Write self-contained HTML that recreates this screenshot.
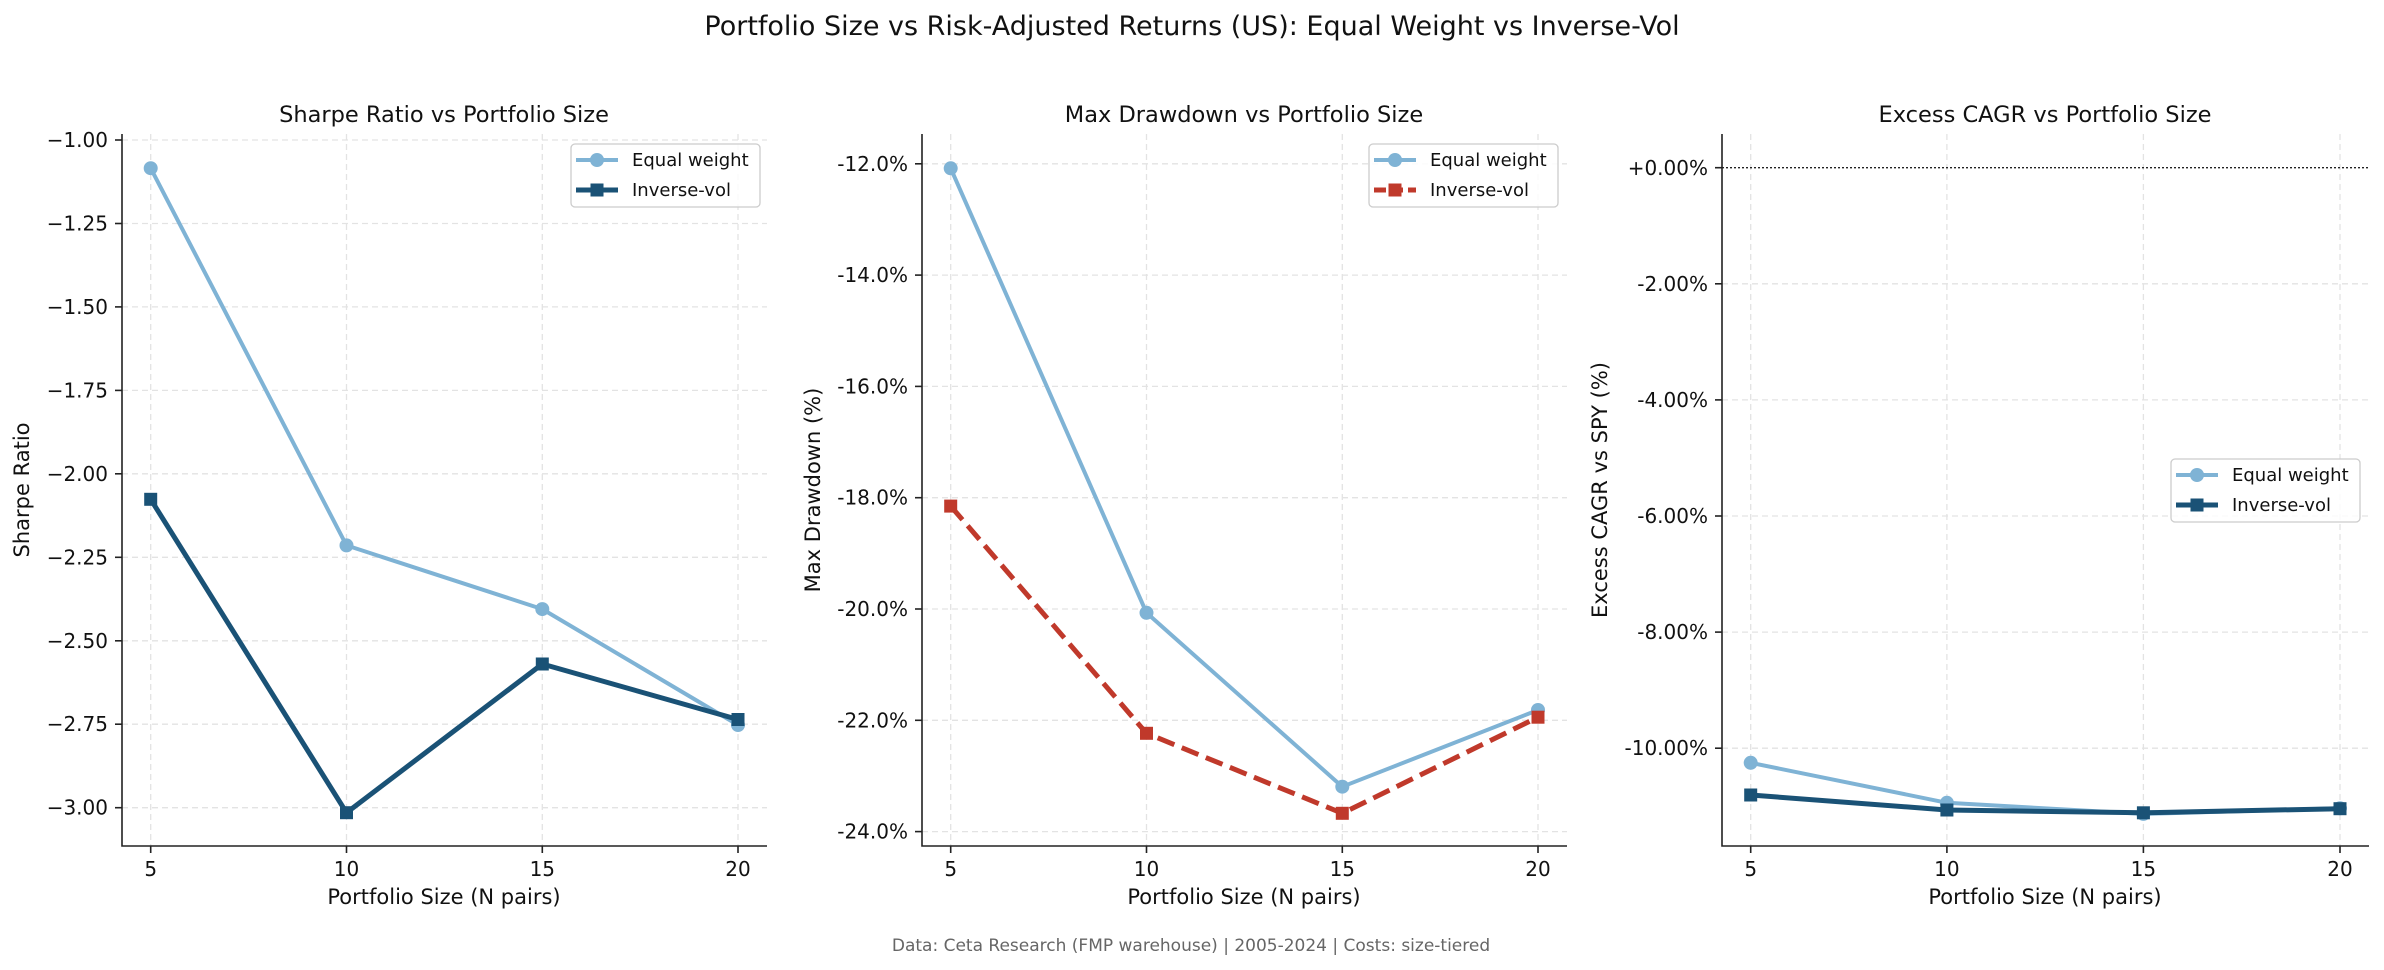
<!DOCTYPE html>
<html><head><meta charset="utf-8"><style>
html,body{margin:0;padding:0;background:#fff}
svg{display:block}
text{font-family:"DejaVu Sans","Liberation Sans",sans-serif;fill:#111}
.t{font-size:20px}
.g{stroke:#e3e3e3;stroke-width:1.3;stroke-dasharray:6,4}
.ax{stroke:#222;stroke-width:1.6;fill:none}
</style></head><body>
<svg width="2384" height="970" viewBox="0 0 2384 970" xmlns="http://www.w3.org/2000/svg">
<text x="1192" y="35" font-size="27" text-anchor="middle">Portfolio Size vs Risk-Adjusted Returns (US): Equal Weight vs Inverse-Vol</text>

<!-- Panel 1 -->
<g>
<text x="444" y="122" font-size="22.5" text-anchor="middle">Sharpe Ratio vs Portfolio Size</text>
<g class="g">
<line x1="150.7" y1="134" x2="150.7" y2="846"/><line x1="346.5" y1="134" x2="346.5" y2="846"/><line x1="542.3" y1="134" x2="542.3" y2="846"/><line x1="738" y1="134" x2="738" y2="846"/>
<line x1="122" y1="140" x2="767" y2="140"/><line x1="122" y1="223.5" x2="767" y2="223.5"/><line x1="122" y1="306.9" x2="767" y2="306.9"/><line x1="122" y1="390.4" x2="767" y2="390.4"/><line x1="122" y1="473.8" x2="767" y2="473.8"/><line x1="122" y1="557.3" x2="767" y2="557.3"/><line x1="122" y1="640.8" x2="767" y2="640.8"/><line x1="122" y1="724.2" x2="767" y2="724.2"/><line x1="122" y1="807.7" x2="767" y2="807.7"/>
</g>
<g class="t" text-anchor="end">
<text x="108" y="147">−1.00</text><text x="108" y="230.5">−1.25</text><text x="108" y="314">−1.50</text><text x="108" y="397.4">−1.75</text><text x="108" y="480.8">−2.00</text><text x="108" y="564.3">−2.25</text><text x="108" y="647.8">−2.50</text><text x="108" y="731.2">−2.75</text><text x="108" y="814.7">−3.00</text>
</g>
<g stroke="#222" stroke-width="1.6">
<line x1="115" y1="140" x2="122" y2="140"/><line x1="115" y1="223.5" x2="122" y2="223.5"/><line x1="115" y1="306.9" x2="122" y2="306.9"/><line x1="115" y1="390.4" x2="122" y2="390.4"/><line x1="115" y1="473.8" x2="122" y2="473.8"/><line x1="115" y1="557.3" x2="122" y2="557.3"/><line x1="115" y1="640.8" x2="122" y2="640.8"/><line x1="115" y1="724.2" x2="122" y2="724.2"/><line x1="115" y1="807.7" x2="122" y2="807.7"/>
<line x1="150.7" y1="846" x2="150.7" y2="853"/><line x1="346.5" y1="846" x2="346.5" y2="853"/><line x1="542.3" y1="846" x2="542.3" y2="853"/><line x1="738" y1="846" x2="738" y2="853"/>
</g>
<g class="t" text-anchor="middle"><text x="150.7" y="876">5</text><text x="346.5" y="876">10</text><text x="542.3" y="876">15</text><text x="738" y="876">20</text></g>
<text x="444" y="904" font-size="21" text-anchor="middle">Portfolio Size (N pairs)</text>
<text transform="translate(29,490) rotate(-90)" font-size="21" text-anchor="middle">Sharpe Ratio</text>
<polyline points="150.7,168.2 346.5,545.4 542.3,609.1 738,725" fill="none" stroke="#7fb3d5" stroke-width="4" stroke-linejoin="round"/>
<g fill="#7fb3d5"><circle cx="150.7" cy="168.2" r="7"/><circle cx="346.5" cy="545.4" r="7"/><circle cx="542.3" cy="609.1" r="7"/><circle cx="738" cy="725" r="7"/></g>
<polyline points="150.7,499.3 346.5,812.7 542.3,664 738,719.5" fill="none" stroke="#1a5276" stroke-width="5" stroke-linejoin="round"/>
<g fill="#1a5276"><rect x="144.2" y="492.8" width="13" height="13"/><rect x="340" y="806.2" width="13" height="13"/><rect x="535.8" y="657.5" width="13" height="13"/><rect x="731.5" y="713" width="13" height="13"/></g>
<path class="ax" d="M122,134 V846 H767"/>
<rect x="571" y="144" width="189" height="63" rx="4" fill="#fff" fill-opacity="0.85" stroke="#ccc" stroke-width="1.3"/>
<line x1="576" y1="160" x2="618" y2="160" stroke="#7fb3d5" stroke-width="4"/><circle cx="597" cy="160" r="7" fill="#7fb3d5"/>
<line x1="576" y1="190" x2="618" y2="190" stroke="#1a5276" stroke-width="5"/><rect x="590.5" y="183.5" width="13" height="13" fill="#1a5276"/>
<text x="632" y="166" font-size="18">Equal weight</text><text x="632" y="196" font-size="18">Inverse-vol</text>
</g>

<!-- Panel 2 -->
<g>
<text x="1244" y="122" font-size="22.5" text-anchor="middle">Max Drawdown vs Portfolio Size</text>
<g class="g">
<line x1="950.7" y1="134" x2="950.7" y2="846"/><line x1="1146.5" y1="134" x2="1146.5" y2="846"/><line x1="1342.3" y1="134" x2="1342.3" y2="846"/><line x1="1538" y1="134" x2="1538" y2="846"/>
<line x1="922" y1="163.8" x2="1567" y2="163.8"/><line x1="922" y1="275.1" x2="1567" y2="275.1"/><line x1="922" y1="386.4" x2="1567" y2="386.4"/><line x1="922" y1="497.7" x2="1567" y2="497.7"/><line x1="922" y1="609" x2="1567" y2="609"/><line x1="922" y1="720.3" x2="1567" y2="720.3"/><line x1="922" y1="831.6" x2="1567" y2="831.6"/>
</g>
<g class="t" text-anchor="end">
<text x="908" y="171">-12.0%</text><text x="908" y="282">-14.0%</text><text x="908" y="393.4">-16.0%</text><text x="908" y="504.7">-18.0%</text><text x="908" y="616">-20.0%</text><text x="908" y="727.3">-22.0%</text><text x="908" y="838.6">-24.0%</text>
</g>
<g stroke="#222" stroke-width="1.6">
<line x1="915" y1="163.8" x2="922" y2="163.8"/><line x1="915" y1="275.1" x2="922" y2="275.1"/><line x1="915" y1="386.4" x2="922" y2="386.4"/><line x1="915" y1="497.7" x2="922" y2="497.7"/><line x1="915" y1="609" x2="922" y2="609"/><line x1="915" y1="720.3" x2="922" y2="720.3"/><line x1="915" y1="831.6" x2="922" y2="831.6"/>
<line x1="950.7" y1="846" x2="950.7" y2="853"/><line x1="1146.5" y1="846" x2="1146.5" y2="853"/><line x1="1342.3" y1="846" x2="1342.3" y2="853"/><line x1="1538" y1="846" x2="1538" y2="853"/>
</g>
<g class="t" text-anchor="middle"><text x="950.7" y="876">5</text><text x="1146.5" y="876">10</text><text x="1342.3" y="876">15</text><text x="1538" y="876">20</text></g>
<text x="1244" y="904" font-size="21" text-anchor="middle">Portfolio Size (N pairs)</text>
<text transform="translate(820,490) rotate(-90)" font-size="21" text-anchor="middle">Max Drawdown (%)</text>
<polyline points="950.7,168.3 1146.5,612.8 1342.3,786.7 1538,710" fill="none" stroke="#7fb3d5" stroke-width="4" stroke-linejoin="round"/>
<g fill="#7fb3d5"><circle cx="950.7" cy="168.3" r="7"/><circle cx="1146.5" cy="612.8" r="7"/><circle cx="1342.3" cy="786.7" r="7"/><circle cx="1538" cy="710" r="7"/></g>
<polyline points="950.7,506.1 1146.5,733.3 1342.3,813.3 1538,717.2" fill="none" stroke="#c0392b" stroke-width="5" stroke-dasharray="18,8"/>
<g fill="#c0392b"><rect x="944.2" y="499.6" width="13" height="13"/><rect x="1140" y="726.8" width="13" height="13"/><rect x="1335.8" y="806.8" width="13" height="13"/><rect x="1531.5" y="710.7" width="13" height="13"/></g>
<path class="ax" d="M922,134 V846 H1567"/>
<rect x="1369" y="144" width="189" height="63" rx="4" fill="#fff" fill-opacity="0.85" stroke="#ccc" stroke-width="1.3"/>
<line x1="1374" y1="160" x2="1416" y2="160" stroke="#7fb3d5" stroke-width="4"/><circle cx="1395" cy="160" r="7" fill="#7fb3d5"/>
<line x1="1374" y1="190" x2="1416" y2="190" stroke="#c0392b" stroke-width="5" stroke-dasharray="12,5"/><rect x="1388.5" y="183.5" width="13" height="13" fill="#c0392b"/>
<text x="1430" y="166" font-size="18">Equal weight</text><text x="1430" y="196" font-size="18">Inverse-vol</text>
</g>

<!-- Panel 3 -->
<g>
<text x="2045" y="122" font-size="22.5" text-anchor="middle">Excess CAGR vs Portfolio Size</text>
<g class="g">
<line x1="1750.7" y1="134" x2="1750.7" y2="846"/><line x1="1946.9" y1="134" x2="1946.9" y2="846"/><line x1="2143.4" y1="134" x2="2143.4" y2="846"/><line x1="2340" y1="134" x2="2340" y2="846"/>
<line x1="1722" y1="283.8" x2="2369" y2="283.8"/><line x1="1722" y1="399.9" x2="2369" y2="399.9"/><line x1="1722" y1="516" x2="2369" y2="516"/><line x1="1722" y1="632.1" x2="2369" y2="632.1"/><line x1="1722" y1="748.2" x2="2369" y2="748.2"/>
</g>
<line x1="1722" y1="167.7" x2="2369" y2="167.7" stroke="#222" stroke-width="1.4" stroke-dasharray="2,2"/>
<g class="t" text-anchor="end">
<text x="1708" y="175">+0.00%</text><text x="1708" y="291">-2.00%</text><text x="1708" y="407">-4.00%</text><text x="1708" y="523">-6.00%</text><text x="1708" y="639">-8.00%</text><text x="1708" y="755">-10.00%</text>
</g>
<g stroke="#222" stroke-width="1.6">
<line x1="1715" y1="167.7" x2="1722" y2="167.7"/><line x1="1715" y1="283.8" x2="1722" y2="283.8"/><line x1="1715" y1="399.9" x2="1722" y2="399.9"/><line x1="1715" y1="516" x2="1722" y2="516"/><line x1="1715" y1="632.1" x2="1722" y2="632.1"/><line x1="1715" y1="748.2" x2="1722" y2="748.2"/>
<line x1="1750.7" y1="846" x2="1750.7" y2="853"/><line x1="1946.9" y1="846" x2="1946.9" y2="853"/><line x1="2143.4" y1="846" x2="2143.4" y2="853"/><line x1="2340" y1="846" x2="2340" y2="853"/>
</g>
<g class="t" text-anchor="middle"><text x="1750.7" y="876">5</text><text x="1946.9" y="876">10</text><text x="2143.4" y="876">15</text><text x="2340" y="876">20</text></g>
<text x="2045" y="904" font-size="21" text-anchor="middle">Portfolio Size (N pairs)</text>
<text transform="translate(1607,490) rotate(-90)" font-size="21" text-anchor="middle">Excess CAGR vs SPY (%)</text>
<polyline points="1750.7,762.8 1946.9,802.8 2143.4,813.9 2340,808.3" fill="none" stroke="#7fb3d5" stroke-width="4" stroke-linejoin="round"/>
<g fill="#7fb3d5"><circle cx="1750.7" cy="762.8" r="7"/><circle cx="1946.9" cy="802.8" r="7"/><circle cx="2143.4" cy="813.9" r="7"/><circle cx="2340" cy="808.3" r="7"/></g>
<polyline points="1750.7,795 1946.9,810 2143.4,812.8 2340,808.7" fill="none" stroke="#1a5276" stroke-width="5" stroke-linejoin="round"/>
<g fill="#1a5276"><rect x="1744.2" y="788.5" width="13" height="13"/><rect x="1940.4" y="803.5" width="13" height="13"/><rect x="2136.9" y="806.3" width="13" height="13"/><rect x="2333.5" y="802.2" width="13" height="13"/></g>
<path class="ax" d="M1722,134 V846 H2369"/>
<rect x="2171" y="459" width="189" height="63" rx="4" fill="#fff" fill-opacity="0.85" stroke="#ccc" stroke-width="1.3"/>
<line x1="2176" y1="475" x2="2218" y2="475" stroke="#7fb3d5" stroke-width="4"/><circle cx="2197" cy="475" r="7" fill="#7fb3d5"/>
<line x1="2176" y1="505" x2="2218" y2="505" stroke="#1a5276" stroke-width="5"/><rect x="2190.5" y="498.5" width="13" height="13" fill="#1a5276"/>
<text x="2232" y="481" font-size="18">Equal weight</text><text x="2232" y="511" font-size="18">Inverse-vol</text>
</g>

<text x="1191" y="951" font-size="17" text-anchor="middle" style="fill:#666">Data: Ceta Research (FMP warehouse) | 2005-2024 | Costs: size-tiered</text>
</svg>
</body></html>
